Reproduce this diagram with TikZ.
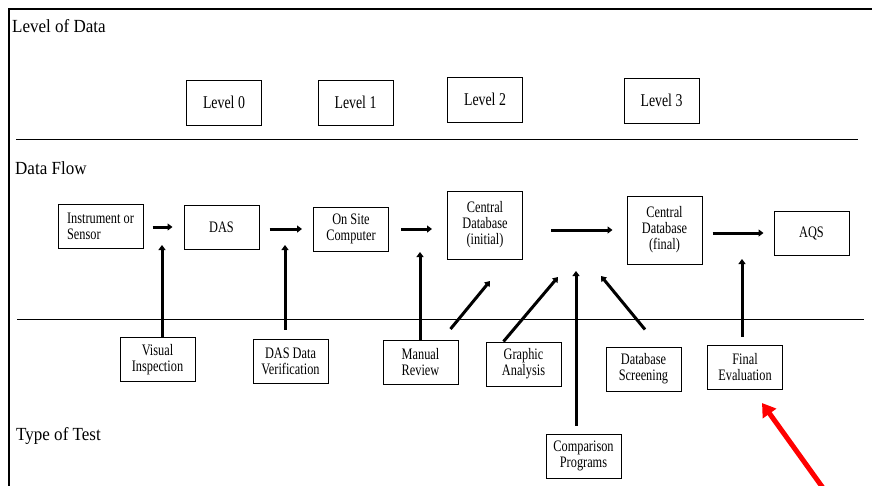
\documentclass[tikz,border=0pt]{standalone}
\usepackage{fontspec}
\setmainfont{Liberation Serif}
\newfontfamily\headfont{Liberation Serif}[FakeStretch=0.92]
\newfontfamily\boxfont{Liberation Serif}[FakeStretch=0.77]
\usepackage{tikz}
\usetikzlibrary{arrows.meta, positioning, calc}

\begin{document}
\begin{tikzpicture}[x=1pt, y=-1pt,
    box/.style={draw, line width=1pt, minimum width=75pt, minimum height=44pt, inner sep=0pt, align=center, font=\boxfont\fontsize{16}{16}\selectfont},
    levelbox/.style={box, minimum height=45pt, font=\boxfont\fontsize{18}{20}\selectfont},
    heading/.style={anchor=base west, inner sep=0pt, font=\headfont\fontsize{18.5}{20}\selectfont},
    flow/.style={line width=3pt, -{Triangle[width=7pt, length=5pt]}},
    redarrow/.style={red, line width=5pt, -{Triangle[width=16pt, length=13pt]}}]
    \useasboundingbox (0,0) rectangle (872,485);
    \draw[line width=1.1pt] (9,490) -- (9,9) -- (872,9);
    \draw[line width=1pt] (16,139) -- (858,139);
    \draw[line width=1pt] (17,319) -- (864,319);

    \node[heading] (lvlhead) at (12,32) {Level of Data};
    \node[heading] (flowhead) at (15,174) {Data Flow};
    \node[heading] (testhead) at (16,440) {Type of Test};

    \node[levelbox] (l0) at (224,102.5) {Level 0};
    \node[levelbox] (l1) at (355.5,102.5) {Level 1};
    \node[levelbox] (l2) at (485,99.5) {Level 2};
    \node[levelbox] (l3) at (661.5,100.5) {Level 3};

    \node[box, minimum width=85pt, align=left] (ins) at (100.5,226) {Instrument or\\Sensor};
    \node[box] (das) at (221.5,227) {DAS};
    \node[box] (ons) at (351,229) {On Site\\Computer};
    \node[box, minimum height=68pt] (cdi) at (485,225) {Central\\Database\\(initial)};
    \node[box, minimum height=68pt] (cdf) at (664.5,230) {Central\\Database\\(final)};
    \node[box] (aqs) at (811.5,233) {AQS};

    \node[box] (vis) at (157.5,359.5) {Visual\\Inspection};
    \node[box] (ver) at (290.5,361) {DAS Data\\Verification};
    \node[box] (man) at (420.5,362.5) {Manual\\Review};
    \node[box] (gra) at (523.5,364) {Graphic\\Analysis};
    \node[box] (scr) at (643.5,369) {Database\\Screening};
    \node[box] (fin) at (745,367) {Final\\Evaluation};
    \node[box] (cmp) at (583.5,456) {Comparison\\Programs};

    \draw[flow, shorten <=9pt, shorten >=11pt] (ins.east |- das) -- (das.west);
    \draw[flow, shorten <=10pt, shorten >=11pt] (das.east |- ons) -- (ons.west);
    \draw[flow, shorten <=12pt, shorten >=15pt] (ons.east) -- (ons.east -| cdi.west);
    \draw[flow, shorten <=28pt, shorten >=14pt] (cdi.east |- cdf) -- (cdf.west);
    \draw[flow, shorten <=10pt, shorten >=10pt] (cdf.east |- aqs) -- (aqs.west);

    \coordinate (visTip) at (162,245);
    \coordinate (verTip) at (285,245);
    \coordinate (manTip) at (420,252);
    \coordinate (revTip) at (490,281);
    \coordinate (graTip) at (558,277);
    \coordinate (cmpTip) at (576,271);
    \coordinate (scrTip) at (601,276);
    \coordinate (finTip) at (742,259);
    \coordinate (redTail) at (823,488);
    \coordinate (redTip) at (762,403);

    \draw[flow] (vis.north -| visTip) -- (visTip);
    \draw[flow, shorten <=9pt] (ver.north -| verTip) -- (verTip);
    \draw[flow] (man.north -| manTip) -- (manTip);
    \draw[flow] ($(man.north east)+(-8,-11)$) -- (revTip);
    \draw[flow] ($(gra.north west)+(18,0)$) -- (graTip);
    \draw[flow, shorten <=8pt] (cmp.north -| cmpTip) -- (cmpTip);
    \draw[flow] ($(scr.north)+(1.5,-17)$) -- (scrTip);
    \draw[flow, shorten <=8pt] (fin.north -| finTip) -- (finTip);
    \draw[redarrow] (redTail) -- (redTip);
\end{tikzpicture}
\end{document}
